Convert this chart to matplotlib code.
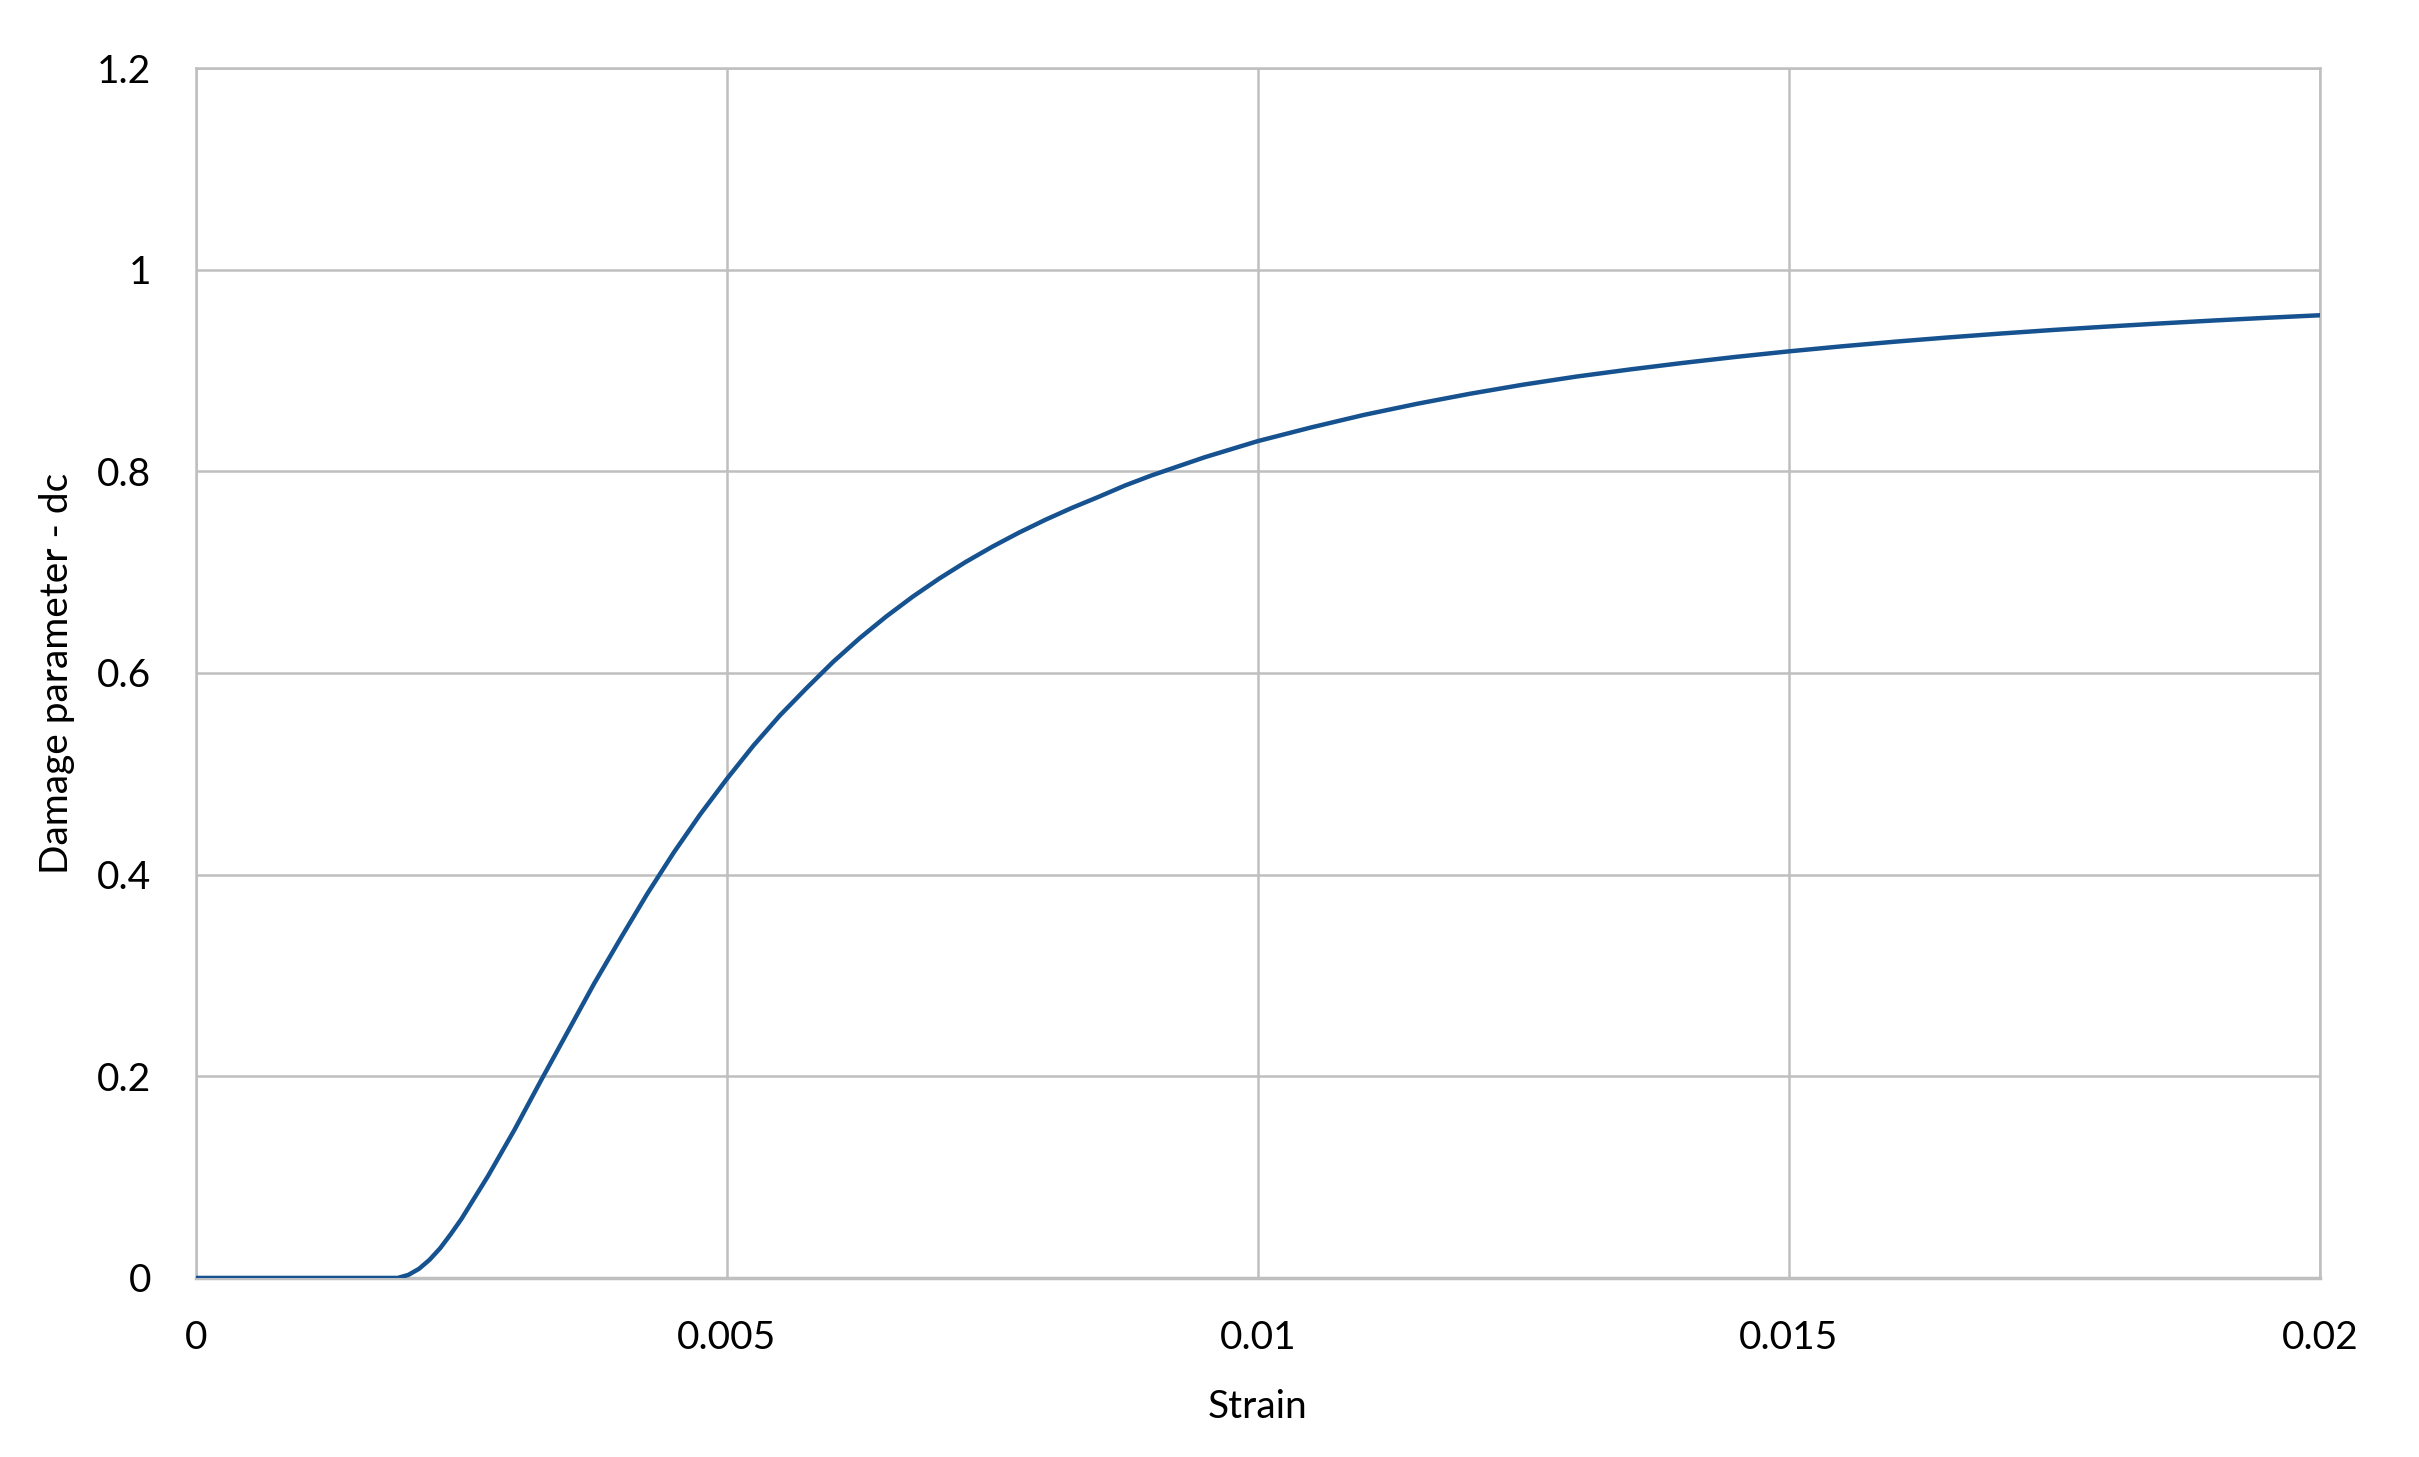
import matplotlib
matplotlib.use("Agg")
import matplotlib.pyplot as plt

# strain vs compressive damage parameter
strain = [0.0, 0.0019, 0.0020, 0.0021, 0.0022, 0.0023, 0.0024, 0.0025,
          0.00275, 0.0030, 0.00325, 0.0035, 0.00375, 0.0040, 0.00425, 0.0045,
          0.00475, 0.0050, 0.00525, 0.0055, 0.00575, 0.0060, 0.00625, 0.0065,
          0.00675, 0.0070, 0.00725, 0.0075, 0.00775, 0.0080, 0.00825, 0.0085,
          0.00875, 0.0090, 0.00925, 0.0095, 0.00975, 0.0100, 0.0105, 0.0110,
          0.0115, 0.0120, 0.0125, 0.0130, 0.0135, 0.0140, 0.0145, 0.0150,
          0.0155, 0.0160, 0.0165, 0.0170, 0.0175, 0.0180, 0.0185, 0.0190,
          0.0195, 0.0200]
damage = [0.0, 0.0, 0.003, 0.009, 0.018, 0.0295, 0.0435, 0.0585,
          0.101, 0.147, 0.196, 0.244, 0.292, 0.337, 0.381, 0.422,
          0.460, 0.495, 0.528, 0.558, 0.585, 0.611, 0.6345, 0.656,
          0.6757, 0.6937, 0.7102, 0.7253, 0.7392, 0.752, 0.7638, 0.7747,
          0.786, 0.796, 0.805, 0.814, 0.822, 0.830, 0.8435, 0.856,
          0.867, 0.877, 0.886, 0.894, 0.901, 0.9075, 0.9135, 0.919,
          0.924, 0.9286, 0.9328, 0.9367, 0.9403, 0.9436, 0.9467, 0.9496,
          0.9523, 0.9548]

x_ticks = [0, 0.005, 0.01, 0.015, 0.02]
x_labels = ["0", "0.005", "0.01", "0.015", "0.02"]
y_ticks = [0, 0.2, 0.4, 0.6, 0.8, 1.0, 1.2]
y_labels = ["0", "0.2", "0.4", "0.6", "0.8", "1", "1.2"]

plt.rcParams['font.family'] = ['Lato', 'DejaVu Sans']

grid_col = '#BFBFBF'
fig = plt.figure(figsize=(24.19, 14.57), dpi=100)
ax = fig.add_axes([0.081, 0.1229, 0.878, 0.8304])

ax.plot(strain, damage, color='#15528F', linewidth=3.2, solid_joinstyle='round', zorder=3)

ax.set_xlim(0, 0.02)
ax.set_ylim(0, 1.2)
ax.set_xticks(x_ticks)
ax.set_xticklabels(x_labels)
ax.set_yticks(y_ticks)
ax.set_yticklabels(y_labels)
ax.tick_params(axis='both', length=0, labelsize=28, colors='black')
ax.tick_params(axis='x', pad=30)
ax.tick_params(axis='y', pad=32)
ax.grid(True, color=grid_col, linewidth=1.8)
for s in ax.spines.values():
    s.set_color(grid_col)
    s.set_linewidth(1.8)
ax.spines['bottom'].set_linewidth(2.5)

ax.set_xlabel("Strain", fontsize=28, labelpad=24)
ax.set_ylabel("Damage parameter - dc", fontsize=28, labelpad=16)

fig.savefig("out.png", dpi=100, facecolor='white')
